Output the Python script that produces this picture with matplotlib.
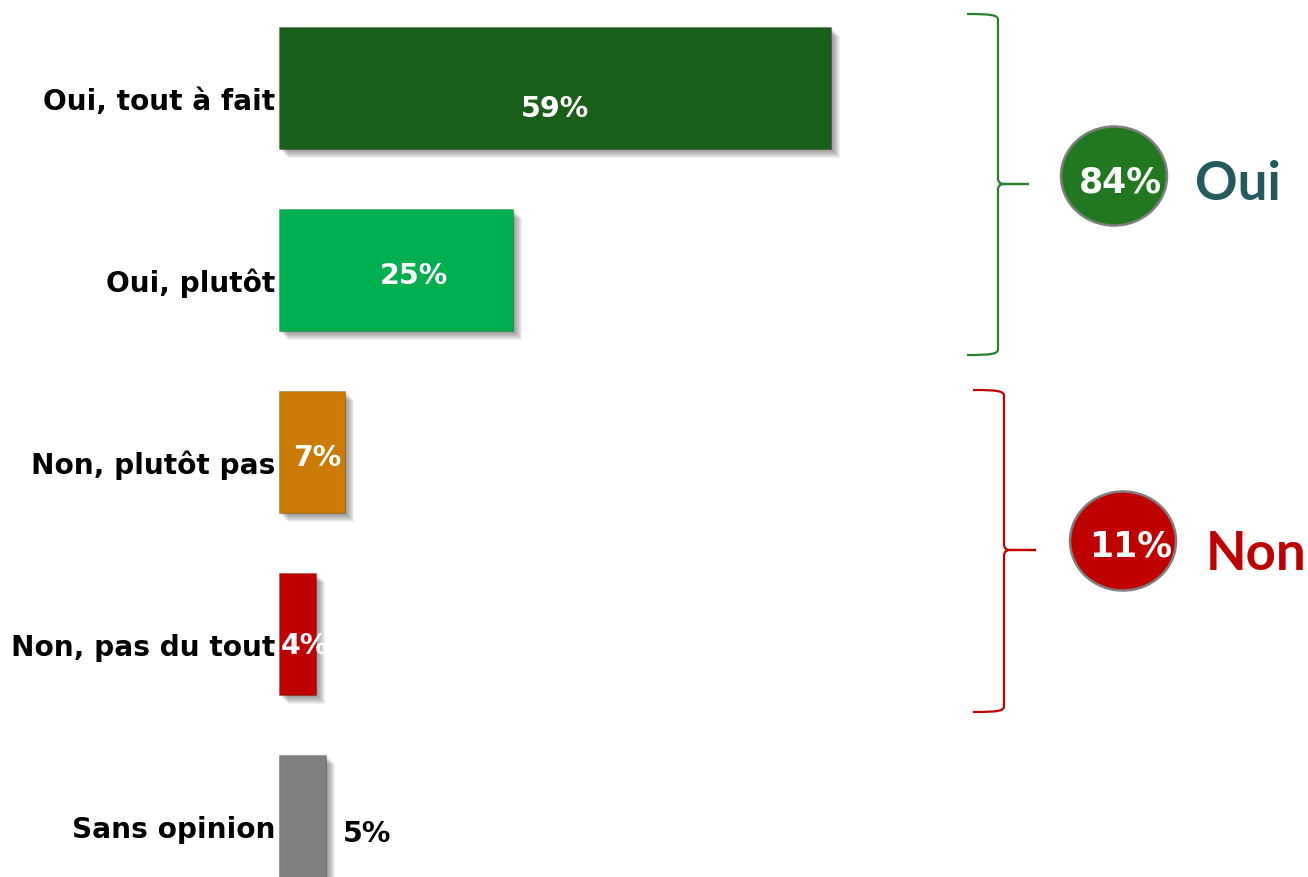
import matplotlib
matplotlib.use("Agg")
import matplotlib.pyplot as plt
from matplotlib.path import Path
from matplotlib.patches import PathPatch, Ellipse

# ---------------- data ----------------
categories = ["Oui, tout à fait", "Oui, plutôt", "Non, plutôt pas", "Non, pas du tout", "Sans opinion"]
values = [59, 25, 7, 4, 5]
value_labels = ["59%", "25%", "7%", "4%", "5%"]
group_names = ["Oui", "Non"]
group_totals = [84, 11]

# ---------------- style ----------------
bar_colors = ["#1a5f19", "#00b050", "#cc7a06", "#c00000", "#808080"]
label_colors = ["white", "white", "white", "white", "black"]
# pixel offsets of value labels (dx right, dy down) from bar centre / baseline
label_offsets = [(0, 28), (18, 13), (5, 13), (7, 19), (0, 25)]
label_anchor_end = [False, False, False, False, True]

W, H = 1308, 878
fig = plt.figure(figsize=(W / 100, H / 100), dpi=100)
fig.patch.set_facecolor("white")

ax_left_px = 279
px_per_pct = 9.36
ax = fig.add_axes([ax_left_px / W, 0, 1 - ax_left_px / W, 1])
ax.set_xlim(0, (W - ax_left_px) / px_per_pct)
row_px = 182.0
first_centre_px = 89.0
ax.set_ylim(len(values) - 1 + (H - first_centre_px - (len(values) - 1) * row_px) / row_px,
            -first_centre_px / row_px)
ax.axis("off")

bar_h = 122 / row_px
ypos = list(range(len(values)))

# blurred drop shadows
for k in range(1, 10):
    ax.barh([y + k / row_px for y in ypos], values, left=k / px_per_pct,
            height=bar_h, color="#404040", alpha=0.075, linewidth=0, zorder=1)
ax.barh(ypos, values, height=bar_h, color=bar_colors, edgecolor="#00000030",
        linewidth=0.8, zorder=3)

for i, (cat, v) in enumerate(zip(categories, values)):
    ax.annotate(cat, xy=(0, i), xytext=(-4, -21), textcoords="offset pixels",
                ha="right", va="baseline", fontsize=20.2, fontweight="bold",
                family="DejaVu Sans", color="black", zorder=5)
    dx, dy = label_offsets[i]
    x_anchor = v + 4.4 if label_anchor_end[i] else v / 2
    ax.annotate(value_labels[i], xy=(x_anchor, i), xytext=(dx, -dy),
                textcoords="offset pixels", ha="center", va="baseline",
                fontsize=20.5, fontweight="bold", family="DejaVu Sans",
                color=label_colors[i], zorder=6)

# ---------------- overlay: braces, circles ----------------
ov = fig.add_axes([0, 0, 1, 1])
ov.set_xlim(0, W)
ov.set_ylim(H, 0)
ov.axis("off")


def brace(x_end, x_line, x_tip, y_top, y_mid, y_bot, color):
    r = 6
    verts = [
        (x_end, y_top),
        (x_line - 6, y_top), (x_line, y_top + 1), (x_line, y_top + r),
        (x_line, y_mid - r),
        (x_line, y_mid), (x_line + r, y_mid),
        (x_tip, y_mid),
        (x_line + r, y_mid),
        (x_line, y_mid), (x_line, y_mid + r),
        (x_line, y_bot - r),
        (x_line, y_bot - 1), (x_line - 6, y_bot), (x_end, y_bot),
    ]
    codes = [Path.MOVETO,
             Path.CURVE4, Path.CURVE4, Path.CURVE4,
             Path.LINETO,
             Path.CURVE3, Path.CURVE3,
             Path.LINETO,
             Path.LINETO,
             Path.CURVE3, Path.CURVE3,
             Path.LINETO,
             Path.CURVE4, Path.CURVE4, Path.CURVE4]
    ov.add_patch(PathPatch(Path(verts, codes), fill=False, edgecolor=color,
                           linewidth=1.6, capstyle="butt", joinstyle="miter"))


brace(967, 998, 1029, 15, 185, 356, "#2a7f2a")
brace(973, 1004, 1036, 391, 551, 713, "#c00000")

circle_specs = [
    dict(c=(1114, 177), fc="#217821", txt=(1120, 193), name=(1195, 200), ncol="#245a5e"),
    dict(c=(1123, 542), fc="#c00000", txt=(1131, 557), name=(1206, 570), ncol="#c00000"),
]
for spec, total, name in zip(circle_specs, group_totals, group_names):
    ov.add_patch(Ellipse(spec["c"], 106, 99, facecolor=spec["fc"],
                         edgecolor="#7f7f7f", linewidth=1.8))
    ov.text(spec["txt"][0], spec["txt"][1], f"{total}%", ha="center", va="baseline",
            fontsize=25, fontweight="bold", family="DejaVu Sans", color="white")
    ov.text(spec["name"][0], spec["name"][1], name, ha="left", va="baseline",
            fontsize=38, fontweight="bold", family="Lato", color=spec["ncol"])

fig.savefig("out.png", dpi=100, facecolor="white")
